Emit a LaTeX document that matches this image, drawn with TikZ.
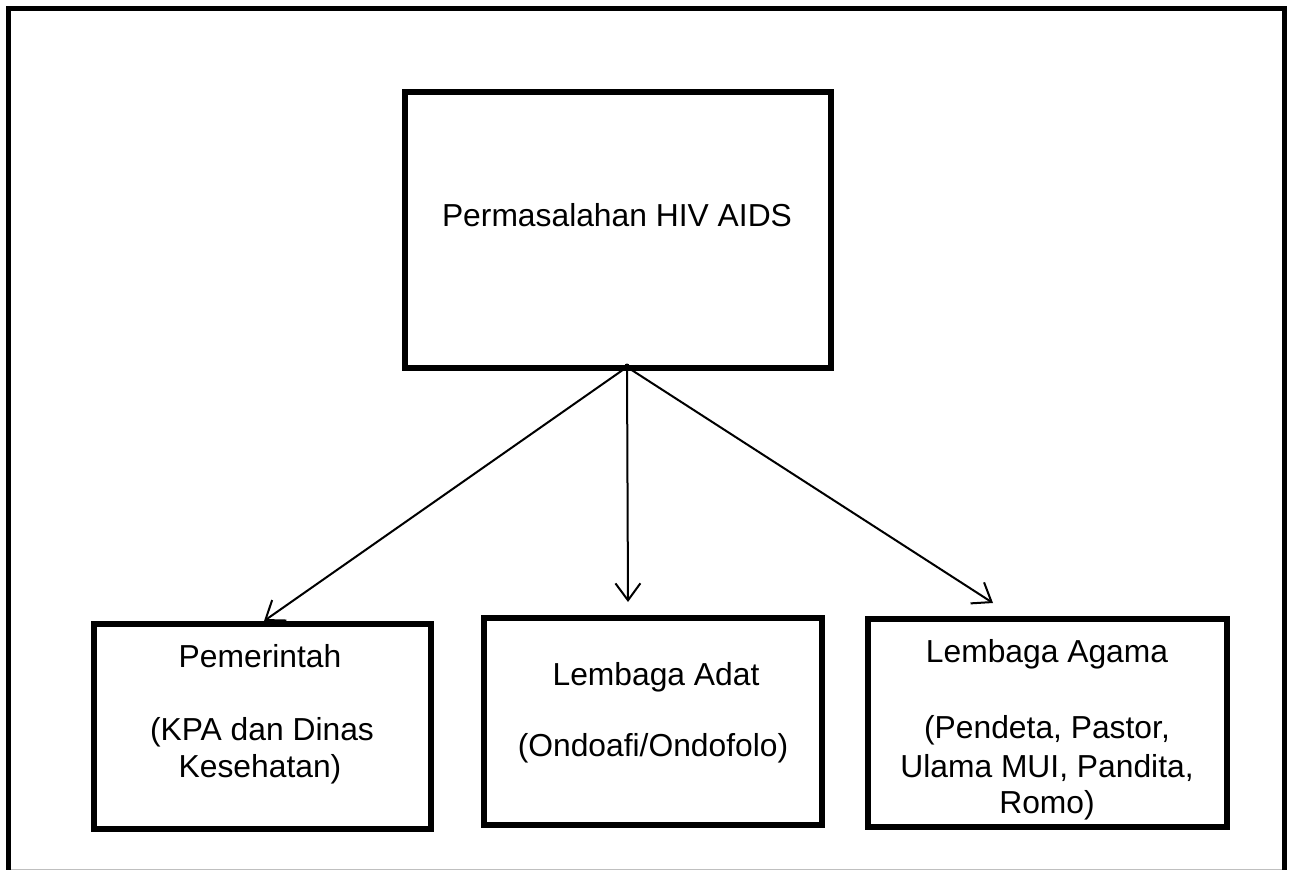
\documentclass[tikz,border=0pt]{standalone}
\usepackage{fontspec}
\setmainfont{Liberation Sans}
\usetikzlibrary{arrows.meta}
\begin{document}
\begin{tikzpicture}[x=1pt,y=-1pt,
  boxline/.style={line width=5.5pt,line join=miter},
  txt/.style={anchor=base,inner sep=0pt,font=\fontsize{31.8}{37.5}\selectfont},
  arr/.style={line width=2pt,-{Straight Barb[length=17pt,width=25pt,line width=2pt]}}]
\useasboundingbox (0,0) rectangle (1291,870);
% outer frame (bottom edge cut off)
\draw[line width=5pt] (8.5,872) -- (8.5,8) -- (1284,8) -- (1284,872);
\draw[gray!50,line width=1pt] (11,869) -- (1282,869);
% boxes
\draw[boxline] (405,92) rectangle (831,368);
\node (top) at (618,230) {};
\draw[boxline] (94,624) rectangle (431,829);
\node (b1) at (262,726) {};
\draw[boxline] (484,618) rectangle (822,825);
\node (b2) at (653,721) {};
\draw[boxline] (868,619) rectangle (1227,827);
\node (b3) at (1047,723) {};
% texts
\node[txt] (t0) at (617,226) {Permasalahan HIV AIDS};
\node[txt] (t1a) at (260,667) {Pemerintah};
\node[txt] (t1b) at (262,740) {(KPA dan Dinas};
\node[txt] (t1c) at (260,777) {Kesehatan)};
\node[txt] (t2a) at (656,685) {Lembaga Adat};
\node[txt] (t2b) at (653,756) {(Ondoafi/Ondofolo)};
\node[txt] (t3a) at (1047,662) {Lembaga Agama};
\node[txt] (t3b) at (1047,738) {(Pendeta, Pastor,};
\node[txt] (t3c) at (1047,777) {Ulama MUI, Pandita,};
\node[txt] (t3d) at (1047,813) {Romo)};
% arrows
\coordinate (s) at (627,367);
\coordinate (e1) at (264,621);
\coordinate (e2) at (628,602);
\coordinate (e3) at (993,603);
\draw[arr] (s) -- (e1);
\draw[arr] (s) -- (e2);
\draw[arr] (s) -- (e3);
\fill (627,366) circle (2.5pt);
\end{tikzpicture}
\end{document}
